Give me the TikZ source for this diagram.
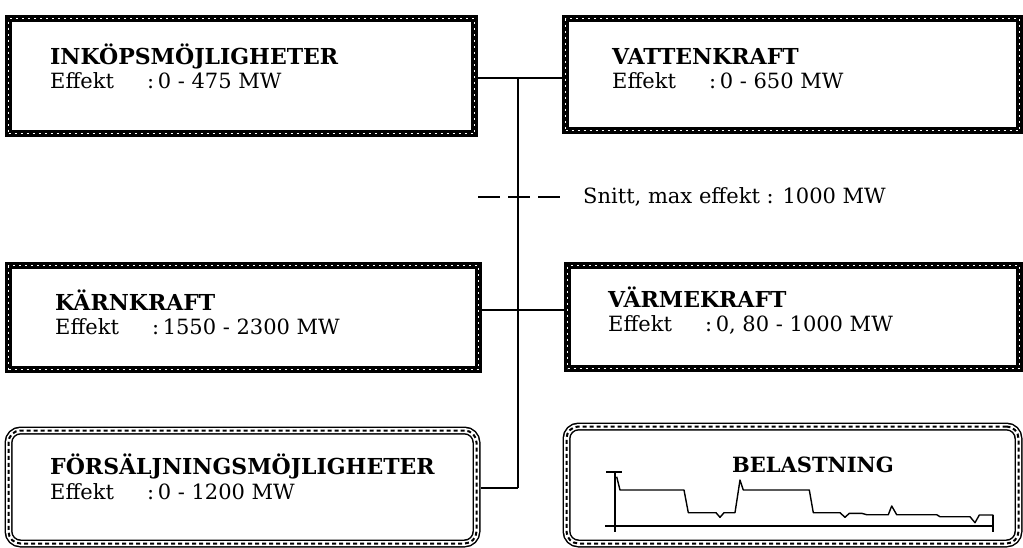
\documentclass[tikz,border=0pt]{standalone}
\usepackage{fontspec}
\setmainfont{DejaVu Serif}
\usetikzlibrary{positioning,calc}
\newcommand{\effrow}[1]{\makebox[97pt][l]{Effekt}:\,#1}
\begin{document}
\begin{tikzpicture}[x=1pt,y=-1pt]
	\tikzset{sqbox/.style={draw,line width=7pt,inner sep=0pt,
	           postaction={draw=white,line width=1.3pt,dash pattern=on 2pt off 4pt}},
	         rndbox/.style={draw,line width=8pt,inner sep=0pt,rounded corners=12pt,
	           postaction={draw=white,line width=5pt},
	           postaction={draw=black,line width=2pt,dash pattern=on 4pt off 3pt}},
	         ttl/.style={font=\fontsize{22}{26}\selectfont\bfseries,inner sep=0pt,anchor=base west},
	         eff/.style={font=\fontsize{21}{25}\selectfont,inner sep=0pt,anchor=base west},
	         wire/.style={line width=1.6pt}}
	\useasboundingbox (0,0) rectangle (1023,547);
	\node[sqbox,minimum width=466pt,minimum height=115pt] (inkop) at (241.5,76) {};
	\node[sqbox,minimum width=454pt,minimum height=112pt] (vatten) at (792.5,74.5) {};
	\node[sqbox,minimum width=470pt,minimum height=104pt] (karn) at (243.5,317.5) {};
	\node[sqbox,minimum width=452pt,minimum height=103pt] (varme) at (793.5,317) {};
	\node[rndbox,minimum width=468pt,minimum height=113pt] (forsalj) at (242.5,487) {};
	\node[rndbox,minimum width=452pt,minimum height=117pt] (belast) at (792.5,485) {};
	\node[ttl] (inkopT) at (50,64) {INKÖPSMÖJLIGHETER};
	\node[eff] (inkopE) at (50,88) {\effrow{0 - 475 MW}};
	\node[ttl] (vattenT) at (612,64) {VATTENKRAFT};
	\node[eff] (vattenE) at (612,88) {\effrow{0 - 650 MW}};
	\node[ttl] (karnT) at (55,310) {KÄRNKRAFT};
	\node[eff] (karnE) at (55,334) {\effrow{1550 - 2300 MW}};
	\node[ttl] (varmeT) at (608,307) {VÄRMEKRAFT};
	\node[eff] (varmeE) at (608,331) {\effrow{0, 80 - 1000 MW}};
	\node[ttl] (forsaljT) at (50,474) {FÖRSÄLJNINGSMÖJLIGHETER};
	\node[eff] (forsaljE) at (50,499) {\effrow{0 - 1200 MW}};
	\node[ttl,anchor=center,font=\fontsize{21}{25}\selectfont\bfseries] (belastT) at (813,465) {BELASTNING};
	\coordinate (jtop) at (518,78);
	\coordinate (jmid) at (518,310);
	\coordinate (jbot) at (518,488);
	\coordinate (cut) at (518,197);
	\draw[wire] (jtop)--(jbot);
	\draw[wire] (inkop.east |- jtop)--(vatten.west |- jtop);
	\draw[wire] (karn.east |- jmid)--(varme.west |- jmid);
	\draw[wire] (forsalj.east |- jbot)--(jbot);
	\draw[wire] ($(cut)+(-40,0)$)--($(cut)+(-18,0)$);
	\draw[wire] ($(cut)+(-10,0)$)--($(cut)+(12,0)$);
	\draw[wire] ($(cut)+(20,0)$)--($(cut)+(42,0)$);
	\node[eff,anchor=west] (snitt) at ($(cut)+(65,0)$) {Snitt, max effekt : 1000 MW};
	\draw[line width=1.4pt] (606,472)--(622,472);
	\draw[line width=1.2pt] (615,472)--(615,532);
	\draw[line width=1.2pt] (605,526)--(993,526);
	\draw[line width=1.2pt] (993,515)--(993,532);
	\draw[line width=1.4pt,line join=round] (616.7,476.7)--(620,490)--(684,490)--(688.3,512.7)
	  --(716,512.7)--(720,517.3)--(724,512.7)--(735,512.7)--(740,480)--(743.3,490)
	  --(809.3,490)--(813.3,512.7)--(840,512.7)--(845,517.3)--(849.3,513.3)--(861.7,513.3)
	  --(866.7,514.7)--(888.3,514.7)--(891.7,506)--(896.7,514.7)--(936.7,514.7)--(940,516.7)
	  --(970,516.7)--(975,522.7)--(979.3,515)--(993.3,515);
\end{tikzpicture}
\end{document}
